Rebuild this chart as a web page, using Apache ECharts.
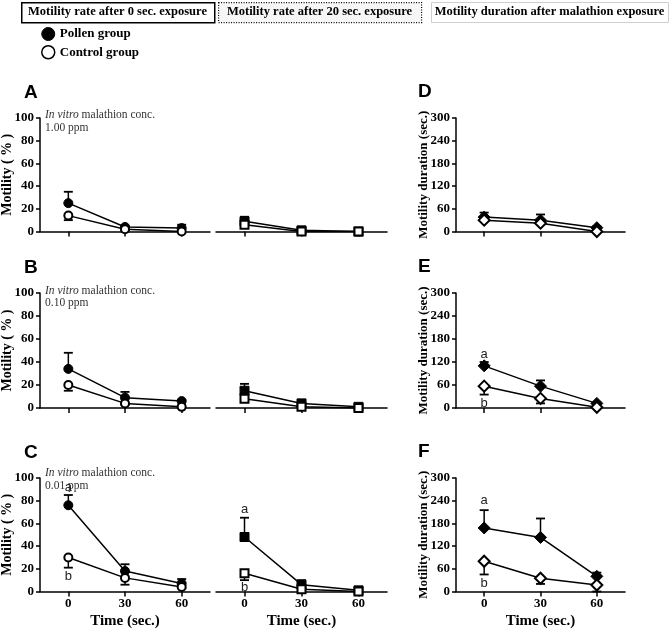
<!DOCTYPE html>
<html><head><meta charset="utf-8">
<script src="https://cdn.jsdelivr.net/npm/echarts@6/dist/echarts.min.js"></script>
<style>html,body{margin:0;padding:0;background:#fff}#c{width:671px;height:629px}</style>
</head><body><div id="c"></div><script>
// ---------- data ----------
const times = [0, 30, 60];
const xTickValues = [0, 30, 60];
const headerTitles = ['Motility rate after 0 sec. exposure', 'Motility rate after 20 sec. exposure', 'Motility duration after malathion exposure'];
const legendNames = ['Pollen group', 'Control group'];
const panelLetters = [['A', 'D'], ['B', 'E'], ['C', 'F']];
const concLabels = ['1.00 ppm', '0.10 ppm', '0.01 ppm'];

// Row A (1.00 ppm)
const A0_pollen = [25, 4, 3],   A0_pollenErr = [10, 1, 3];
const A0_control = [14, 2, 0],  A0_controlErr = [4, 1, 0];
const A20_pollen = [9, 1, 0],   A20_pollenErr = [4, 1, 0];
const A20_control = [6, 0, 0],  A20_controlErr = [0, 0, 0];
const D_pollen = [38, 30, 10],  D_pollenErr = [12, 15, 4];
const D_control = [30, 22, 0],  D_controlErr = [0, 0, 0];
// Row B (0.10 ppm)
const B0_pollen = [34, 9, 6],   B0_pollenErr = [14, 5, 1];
const B0_control = [20, 4, 1],  B0_controlErr = [5, 1, 0];
const B20_pollen = [15, 4, 1],  B20_pollenErr = [6, 1, 0];
const B20_control = [8, 1, 0],  B20_controlErr = [1, 0, 0];
const E_pollen = [110, 57, 12], E_pollenErr = [10, 15, 3];
const E_control = [57, 25, 2],  E_controlErr = [22, 13, 0];
// Row C (0.01 ppm)
const C0_pollen = [76, 18, 7],  C0_pollenErr = [9, 6, 4];
const C0_control = [30, 12, 4], C0_controlErr = [9, 6, 1];
const C20_pollen = [48, 6, 1],  C20_pollenErr = [17, 4, 1];
const C20_control = [16, 2, 0], C20_controlErr = [6, 0, 0];
const F_pollen = [168, 143, 40], F_pollenErr = [47, 50, 10];
const F_control = [80, 35, 17],  F_controlErr = [35, 15, 17];

// significance letters [panelIndex, x, y, text]
const sigLetters = [
  [6, 0, 92, 'a'], [6, 0, 13, 'b'],
  [7, 0, 72, 'a'], [7, 0, 4, 'b'],
  [5, 0, 140, 'a'], [5, 0, 12, 'b'],
  [8, 0, 240, 'a'], [8, 0, 22, 'b']
];

// ---------- layout ----------
const rowTop = [118, 293, 478];
const rowH = [113.5, 115, 113.5];
const colLeft = [40, 216, 456];
const colW = [170, 171, 169];
const annOffset = [3.5, 4, 1.5];
const SERIF = '"Liberation Serif", "Times New Roman", serif';
const SANS = '"Liberation Sans", Arial, sans-serif';

const panels = [
  [0, 0, A0_pollen, A0_pollenErr, A0_control, A0_controlErr, 'circle'],
  [0, 1, A20_pollen, A20_pollenErr, A20_control, A20_controlErr, 'rect'],
  [0, 2, D_pollen, D_pollenErr, D_control, D_controlErr, 'diamond'],
  [1, 0, B0_pollen, B0_pollenErr, B0_control, B0_controlErr, 'circle'],
  [1, 1, B20_pollen, B20_pollenErr, B20_control, B20_controlErr, 'rect'],
  [1, 2, E_pollen, E_pollenErr, E_control, E_controlErr, 'diamond'],
  [2, 0, C0_pollen, C0_pollenErr, C0_control, C0_controlErr, 'circle'],
  [2, 1, C20_pollen, C20_pollenErr, C20_control, C20_controlErr, 'rect'],
  [2, 2, F_pollen, F_pollenErr, F_control, F_controlErr, 'diamond']
];

const grids = [], xAxes = [], yAxes = [], series = [];
panels.forEach((p, gi) => {
  const [r, c] = p;
  grids.push({left: colLeft[c], top: rowTop[r], width: colW[c], height: rowH[r], containLabel: false, outerBoundsMode: 'none'});
  const bottom = r === 2;
  xAxes.push({
    gridIndex: gi, type: 'value', min: -15, max: 75,
    axisLine: {show: true, onZero: false, lineStyle: {color: '#000', width: 1.5}},
    axisTick: {show: true, customValues: xTickValues, length: 5, lineStyle: {color: '#000', width: 1.5}},
    axisLabel: {show: bottom, customValues: xTickValues, color: '#000', fontFamily: SERIF, fontWeight: 'bold', fontSize: 13, margin: 6},
    splitLine: {show: false},
    name: bottom ? 'Time (sec.)' : '', nameLocation: 'middle', nameGap: 22,
    nameTextStyle: {color: '#000', fontFamily: SERIF, fontWeight: 'bold', fontSize: 15}
  });
  const isDur = c === 2;
  yAxes.push({
    gridIndex: gi, type: 'value', min: 0, max: isDur ? 300 : 100, interval: isDur ? 60 : 20,
    show: c !== 1,
    axisLine: {show: true, onZero: false, lineStyle: {color: '#000', width: 1.5}},
    axisTick: {show: true, length: 4, lineStyle: {color: '#000', width: 1.5}},
    axisLabel: {color: '#000', fontFamily: SERIF, fontWeight: 'bold', fontSize: 13, margin: 6},
    splitLine: {show: false},
    name: c === 0 ? 'Motility ( % )' : (isDur ? 'Motility duration (sec.)' : ''),
    nameLocation: 'middle', nameGap: isDur ? 25.5 : 26, nameMoveOverlap: false,
    nameTextStyle: {color: '#000', fontFamily: SERIF, fontWeight: 'bold', fontSize: isDur ? 13 : 14}
  });
  const sym = p[6];
  const symSize = sym === 'diamond' ? 12 : 9;
  [[p[2], p[3], 1], [p[4], p[5], -1]].forEach(([vals, errs, dir]) => {
    series.push({
      type: 'custom', xAxisIndex: gi, yAxisIndex: gi, z: 2, silent: true,
      data: times.map((t, i) => [t, vals[i], vals[i] + dir * errs[i]]),
      renderItem(params, api) {
        const p0 = api.coord([api.value(0), api.value(1)]);
        const p1 = api.coord([api.value(0), api.value(2)]);
        if (Math.abs(p1[1] - p0[1]) < 1) return null;
        return {type: 'group', children: [
          {type: 'line', shape: {x1: p0[0], y1: p0[1], x2: p1[0], y2: p1[1]}, style: {stroke: '#000', lineWidth: 1.5}},
          {type: 'line', shape: {x1: p1[0] - 4.5, y1: p1[1], x2: p1[0] + 4.5, y2: p1[1]}, style: {stroke: '#000', lineWidth: 1.8}}
        ]};
      }
    });
  });
  series.push({
    type: 'line', name: legendNames[0], xAxisIndex: gi, yAxisIndex: gi, z: 3,
    data: times.map((t, i) => [t, p[2][i]]),
    symbol: sym, symbolSize: symSize, showSymbol: true,
    lineStyle: {color: '#000', width: 1.5},
    itemStyle: {color: '#000', borderColor: '#000', borderWidth: 1},
    emphasis: {disabled: true}
  });
  series.push({
    type: 'line', name: legendNames[1], xAxisIndex: gi, yAxisIndex: gi, z: 4,
    data: times.map((t, i) => [t, p[4][i]]),
    symbol: sym, symbolSize: symSize - 1, showSymbol: true,
    lineStyle: {color: '#000', width: 1.5},
    itemStyle: {color: '#fff', borderColor: '#000', borderWidth: 2},
    emphasis: {disabled: true}
  });
});

panels.forEach((p, gi) => {
  const items = sigLetters.filter(s => s[0] === gi).map(s => [s[1], s[2], s[3]]);
  if (!items.length) return;
  series.push({
    type: 'custom', xAxisIndex: gi, yAxisIndex: gi, z: 5, silent: true,
    data: items,
    renderItem(params, api) {
      const pt = api.coord([api.value(0), api.value(1)]);
      return {type: 'text', x: pt[0], y: pt[1], style: {text: items[params.dataIndex][2], fill: '#222', font: '13px ' + SANS, align: 'center', verticalAlign: 'middle'}};
    }
  });
});

// ---------- graphics ----------
const graphic = [];
const headerBoxes = [[21, 193, 'solid'], [218, 203, 'dotted'], [431, 237, 'light']];
headerBoxes.forEach(([x, w, kind], i) => {
  graphic.push({
    type: 'rect', left: x, top: 2, shape: {width: w, height: 20},
    style: {
      fill: kind === 'dotted' ? '#f6f6f6' : '#fff',
      stroke: kind === 'light' ? '#cfcfcf' : '#000',
      lineWidth: kind === 'solid' ? 1.5 : (kind === 'dotted' ? 1.2 : 1),
      lineDash: kind === 'dotted' ? [1, 1.5] : null
    }
  });
  graphic.push({
    type: 'text', x: x + w / 2, y: 12,
    style: {text: headerTitles[i], fill: '#000', font: 'bold 12.5px ' + SERIF, align: 'center', verticalAlign: 'middle'}
  });
});
panelLetters.forEach((rowL, r) => {
  graphic.push({type: 'text', x: 24, y: rowTop[r] - 25, style: {text: rowL[0], fill: '#000', font: 'bold 19px ' + SANS, verticalAlign: 'middle'}});
  graphic.push({type: 'text', x: 418, y: rowTop[r] - 26, style: {text: rowL[1], fill: '#000', font: 'bold 19px ' + SANS, verticalAlign: 'middle'}});
  graphic.push({
    type: 'text', x: 45, y: rowTop[r] + annOffset[r],
    style: {
      text: '{i|In vitro} malathion conc.\n' + concLabels[r],
      fill: '#333', font: '11.5px ' + SERIF, verticalAlign: 'middle', lineHeight: 12.5,
      rich: {i: {fontStyle: 'italic', font: 'italic 11.5px ' + SERIF, fill: '#333'}}
    }
  });
});

const chart = echarts.init(document.getElementById('c'), null, {renderer: 'canvas'});
chart.setOption({
  animation: false,
  backgroundColor: '#fff',
  legend: {
    orient: 'vertical', left: 36, top: 22, itemWidth: 13, itemHeight: 13, itemGap: 4,
    selectedMode: false,
    textStyle: {color: '#000', fontFamily: SERIF, fontWeight: 'bold', fontSize: 13},
    data: [
      {name: legendNames[0], icon: 'circle', itemStyle: {color: '#000', borderColor: '#000', borderWidth: 1}},
      {name: legendNames[1], icon: 'circle', itemStyle: {color: '#fff', borderColor: '#000', borderWidth: 1.5}}
    ]
  },
  grid: grids, xAxis: xAxes, yAxis: yAxes, series: series, graphic: graphic
});
</script></body></html>
